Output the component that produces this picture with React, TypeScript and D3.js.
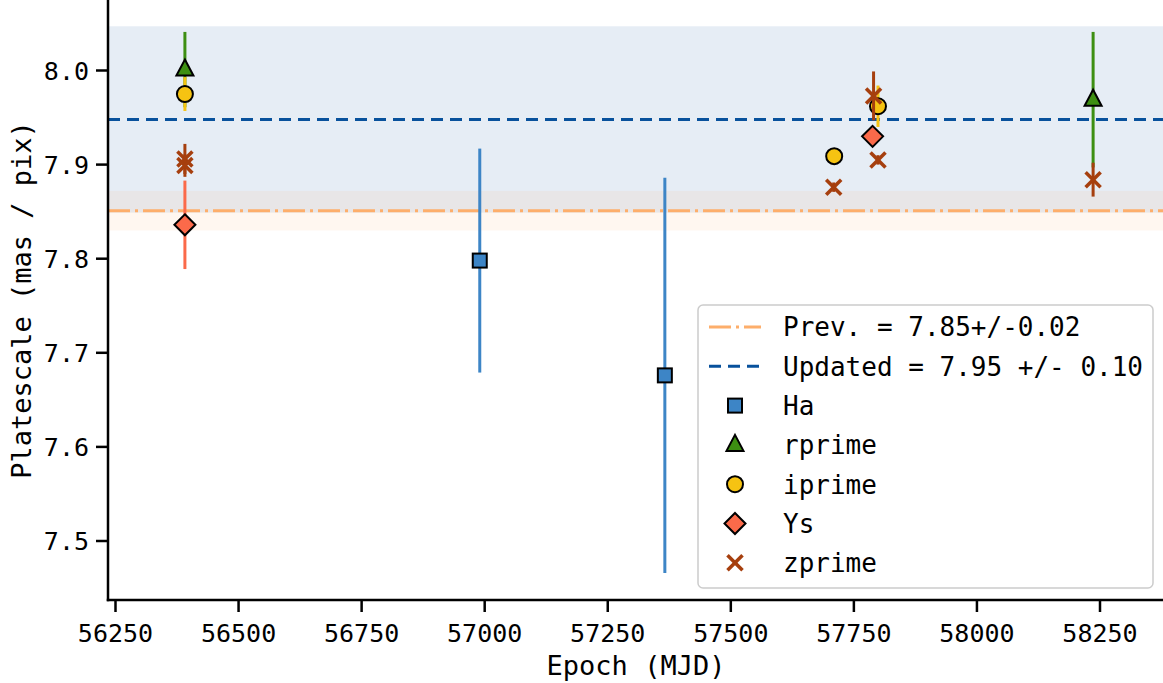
import React from "react";
import * as d3 from "d3";

const W = 1163, H = 683;
const M = { left: 108, top: 0, right: 1163, bottom: 600 };

const xTicks = [56250, 56500, 56750, 57000, 57250, 57500, 57750, 58000, 58250];
const yTicks = [7.5, 7.6, 7.7, 7.8, 7.9, 8.0];

const prevMean = 7.851, prevErr = 0.021;
const updMean = 7.948, updErr = 0.099;

// series: [epoch, value, error]
const haData: [number, number, number][] = [
  [56990, 7.798, 0.119],
  [57366, 7.676, 0.21],
];
const rprimeData: [number, number, number][] = [
  [56391, 8.001, 0.04],
  [58236, 7.969, 0.072],
];
const iprimeData: [number, number, number][] = [
  [56391, 7.975, 0.018],
  [57710, 7.909, 0.006],
  [57799, 7.962, 0.022],
];
const ysData: [number, number, number][] = [
  [56391, 7.836, 0.047],
  [57788, 7.930, 0.006],
];
const zprimeData: [number, number, number][] = [
  [56391, 7.906, 0.016],
  [56391, 7.899, 0.012],
  [57709, 7.876, 0.005],
  [57790, 7.973, 0.026],
  [57799, 7.905, 0.005],
  [58236, 7.884, 0.018],
];

const C = {
  ha: "#3d85c6",
  rprime: "#3d8f12",
  iprime: "#f6c312",
  ys: "#fb6a4a",
  zprime: "#a63f0e",
  upd: "#08519c",
  prev: "#fdae6b",
};

const FONT = "'DejaVu Sans Mono', monospace";

const x = d3.scaleLinear().domain([56250, 58250]).range([115.5, 1100]);
const y = d3.scaleLinear().domain([7.5, 8.0]).range([541, 70.5]);

type Kind = "square" | "triangle" | "circle" | "diamond" | "x";

function Marker({ kind, cx, cy, color }: { kind: Kind; cx: number; cy: number; color: string }) {
  const sw = 2;
  if (kind === "square") {
    const s = 14;
    return <rect x={cx - s / 2} y={cy - s / 2} width={s} height={s} fill={color} stroke="#000" strokeWidth={sw} />;
  }
  if (kind === "circle") {
    return <circle cx={cx} cy={cy} r={8} fill={color} stroke="#000" strokeWidth={sw} />;
  }
  if (kind === "triangle") {
    const p = d3.path();
    p.moveTo(cx, cy - 10);
    p.lineTo(cx + 8.5, cy + 6);
    p.lineTo(cx - 8.5, cy + 6);
    p.closePath();
    return <path d={p.toString()} fill={color} stroke="#000" strokeWidth={sw} strokeLinejoin="miter" />;
  }
  if (kind === "diamond") {
    const p = d3.path();
    p.moveTo(cx, cy - 10.5);
    p.lineTo(cx + 10.5, cy);
    p.lineTo(cx, cy + 10.5);
    p.lineTo(cx - 10.5, cy);
    p.closePath();
    return <path d={p.toString()} fill={color} stroke="#000" strokeWidth={sw} />;
  }
  const s = 7.5;
  return (
    <g stroke={color} strokeWidth={3.5}>
      <line x1={cx - s} y1={cy - s} x2={cx + s} y2={cy + s} />
      <line x1={cx - s} y1={cy + s} x2={cx + s} y2={cy - s} />
    </g>
  );
}

const series: { name: string; kind: Kind; color: string; data: [number, number, number][] }[] = [
  { name: "Ha", kind: "square", color: C.ha, data: haData },
  { name: "rprime", kind: "triangle", color: C.rprime, data: rprimeData },
  { name: "iprime", kind: "circle", color: C.iprime, data: iprimeData },
  { name: "Ys", kind: "diamond", color: C.ys, data: ysData },
  { name: "zprime", kind: "x", color: C.zprime, data: zprimeData },
];

export default function App() {
  const legX = 698, legY = 305, legW = 455, legH = 283;
  const rowY = (i: number) => legY + 22 + i * 39.3;
  return (
    <svg width={W} height={H} style={{ position: "absolute", left: 0, top: 0 }} fontFamily={FONT}>
      <defs>
        <clipPath id="plot">
          <rect x={M.left} y={M.top} width={M.right - M.left} height={M.bottom - M.top} />
        </clipPath>
      </defs>
      <rect x={0} y={0} width={W} height={H} fill="#fff" />
      <g clipPath="url(#plot)">
        <rect x={M.left} y={y(updMean + updErr)} width={M.right - M.left}
          height={y(updMean - updErr) - y(updMean + updErr)} fill={C.upd} fillOpacity={0.1} />
        <rect x={M.left} y={y(prevMean + prevErr)} width={M.right - M.left}
          height={y(prevMean - prevErr) - y(prevMean + prevErr)} fill={C.prev} fillOpacity={0.1} />
        <line x1={M.left} x2={M.right} y1={y(prevMean)} y2={y(prevMean)} stroke={C.prev}
          strokeWidth={3} strokeDasharray="22,5,3,5" />
        <line x1={M.left} x2={M.right} y1={y(updMean)} y2={y(updMean)} stroke={C.upd}
          strokeWidth={3} strokeDasharray="12,7" />
        {series.map((s) => (
          <g key={s.name}>
            {s.data.map((d, i) => (
              <g key={i}>
                <line x1={x(d[0])} x2={x(d[0])} y1={y(d[1] - d[2])} y2={y(d[1] + d[2])}
                  stroke={s.color} strokeWidth={3} />
                <Marker kind={s.kind} cx={x(d[0])} cy={y(d[1])} color={s.color} />
              </g>
            ))}
          </g>
        ))}
      </g>
      {/* axes */}
      <line x1={M.left} x2={M.left} y1={M.top} y2={M.bottom + 1.25} stroke="#000" strokeWidth={2.5} />
      <line x1={M.left - 1.25} x2={M.right} y1={M.bottom} y2={M.bottom} stroke="#000" strokeWidth={2.5} />
      {xTicks.map((t) => (
        <g key={t}>
          <line x1={x(t)} x2={x(t)} y1={M.bottom} y2={M.bottom + 12} stroke="#000" strokeWidth={2.5} />
          <text x={x(t)} y={M.bottom + 42} textAnchor="middle" fontSize={25} fill="#000">{t}</text>
        </g>
      ))}
      {yTicks.map((t) => (
        <g key={t}>
          <line x1={M.left - 12} x2={M.left} y1={y(t)} y2={y(t)} stroke="#000" strokeWidth={2.5} />
          <text x={M.left - 19} y={y(t)} dy="0.36em" textAnchor="end" fontSize={25} fill="#000">{t.toFixed(1)}</text>
        </g>
      ))}
      <text x={636} y={675} textAnchor="middle" fontSize={27} fill="#000">Epoch (MJD)</text>
      <text transform={`translate(31,300) rotate(-90)`} textAnchor="middle" fontSize={27} fill="#000">Platescale (mas / pix)</text>
      {/* legend */}
      <rect x={legX} y={legY} width={legW} height={legH} rx={5} fill="#fff" fillOpacity={0.85} stroke="#cccccc" strokeWidth={1.5} />
      <line x1={709} x2={761} y1={rowY(0)} y2={rowY(0)} stroke={C.prev} strokeWidth={3} strokeDasharray="22,5,3,5" />
      <text x={783} y={rowY(0)} dy="0.36em" fontSize={26}>Prev. = 7.85+/-0.02</text>
      <line x1={709} x2={761} y1={rowY(1)} y2={rowY(1)} stroke={C.upd} strokeWidth={3} strokeDasharray="12,7" />
      <text x={783} y={rowY(1)} dy="0.36em" fontSize={26}>Updated = 7.95 +/- 0.10</text>
      {series.map((s, i) => (
        <g key={s.name}>
          <Marker kind={s.kind} cx={735} cy={rowY(i + 2)} color={s.color} />
          <text x={783} y={rowY(i + 2)} dy="0.36em" fontSize={26}>{s.name}</text>
        </g>
      ))}
    </svg>
  );
}
